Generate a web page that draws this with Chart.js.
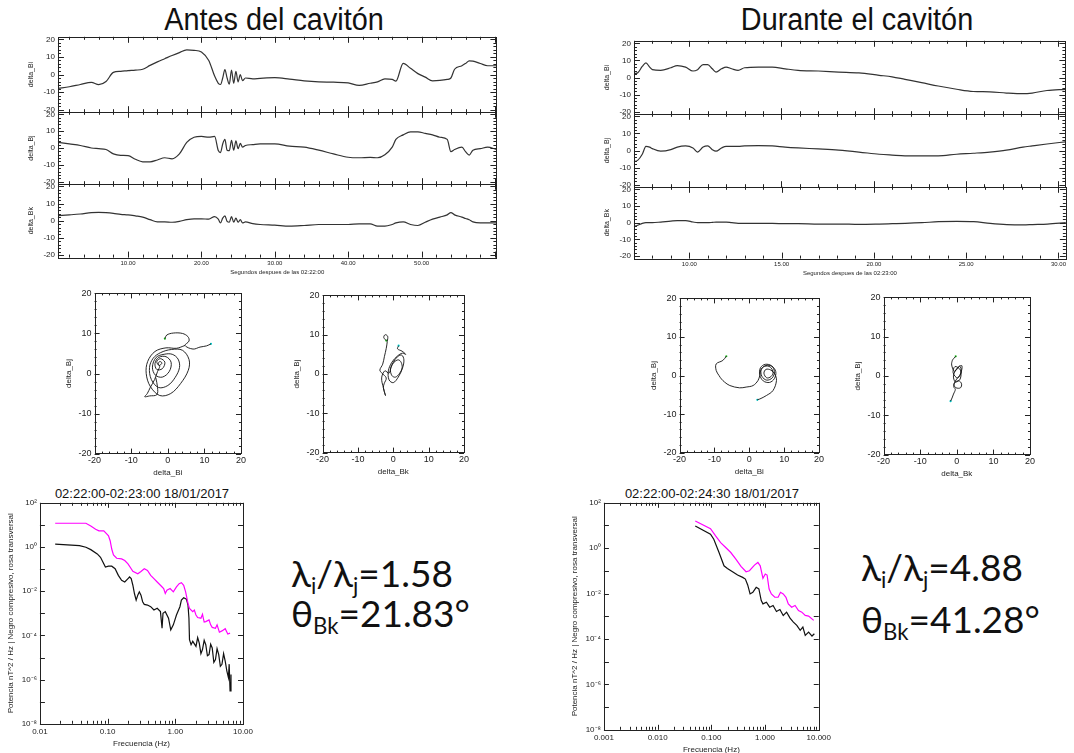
<!DOCTYPE html>
<html lang="es">
<head>
<meta charset="utf-8">
<title>Cavitón</title>
<script src="https://cdn.jsdelivr.net/npm/chart.js@4.4.1/dist/chart.umd.min.js"></script>
<style>
  body { margin: 0; width: 1074px; height: 753px; position: relative; overflow: hidden; background: #fff;
         font-family: 'Liberation Sans', Arial, sans-serif; color: #111; }
  .wrap { position: absolute; left: 0; top: 0; }
  .head { position: absolute; width: 300px; text-align: center; font-family: 'Liberation Sans', Arial, sans-serif;
          font-size: 31px; line-height: 31px; white-space: nowrap; transform: scaleX(0.93); }
  .stitle { position: absolute; width: 240px; text-align: center; font-size: 13px; line-height: 13px; white-space: nowrap; }
  .big { position: absolute; font-family: Lato, 'Open Sans', sans-serif; font-size: 37px; line-height: 37px; white-space: nowrap; }
  .big sub { font-size: 60%; vertical-align: baseline; position: relative; top: 0.3em; }
</style>
</head>
<body>
<div class="head" style="left:124px;top:4px">Antes del cavitón</div>
<div class="head" style="left:707px;top:4px">Durante el cavitón</div>
<div class="stitle" style="left:22px;top:487px">02:22:00-02:23:00 18/01/2017</div>
<div class="stitle" style="left:592px;top:487px">02:22:00-02:24:30 18/01/2017</div>
<div class="big" style="left:291px;top:554px">λ<sub>i</sub>/λ<sub>j</sub>=1.58</div>
<div class="big" style="left:291px;top:594px">θ<sub>Bk</sub>=21.83°</div>
<div class="big" style="left:861px;top:548px">λ<sub>i</sub>/λ<sub>j</sub>=4.88</div>
<div class="big" style="left:861px;top:600px">θ<sub>Bk</sub>=41.28°</div>
<script>
// --- Antes del cavitón: segundos despues de las 02:22:00
const antesT = [0.5,2,3.5,5,6,7,8,9,10,11, 12,13,14,15,16,17,18,19,20,21,
  21.8,22.3,22.6,22.9,23.2,23.5,23.8,24.1,24.4,24.7, 25.0,25.3,25.6,26,27,28,30,32,34,36,
  38,40,41.5,43,44,45,46,46.5,47.5,48.5, 49.5,50.5,51.5,52.5,53.5,54,54.5,55.5,56,56.5, 57,58,59,60.2];
const antesBi = [-7.9,-7.0,-5.7,-4.5,-5.8,-4.0,1.2,1.8,2.2,2.5, 3.0,5.2,7.2,9.0,10.8,12.5,14.0,13.8,12.8,8.0,
  -0.9,-5.0,-5.7,-2.0,2.8,-2.0,-5.5,2.5,-5.0,1.8, -4.2,0,-3.5,-2.0,-2.5,-2.2,-1.8,-2.6,-3.6,-4.2,
  -4.4,-4.8,-6.2,-5.0,-4.2,-2.5,-2.8,-3.8,6.4,3.5, 0.5,-1.5,-3.6,-3.4,-2.8,-2.0,3.0,5.0,6.3,7.8, 7.6,6.3,5.0,5.0];
const antesBj = [3.3,2.4,1.5,0,-0.4,-0.9,-3.5,-4.4,-4.5,-6.7, -8.2,-8.2,-7.1,-5.8,-6.4,-3.5,3.3,6.4,6.9,6.4,
  6.9,-1.5,-2.7,2.4,5.1,-1.3,-1.6,4.5,-1.3,4.2, -0.4,2.7,0.5,1.5,2.0,2.4,2.4,1.1,0.5,-1.3,
  -3.5,-5.5,-5.8,-5.6,-5.8,-4.0,0.5,5.1,7.8,9.6, 9.6,8.7,7.8,6.4,5.1,-2.2,-0.9,0.5,-2.2,-4.2, -1.3,-0.4,0.5,-0.9];
const antesBk = [3.0,3.4,3.9,4.7,4.9,4.7,4.3,3.7,3.4,2.8, 2.1,0.6,-0.7,-0.7,-0.9,-0.4,0.6,1.1,1.1,0.9,
  2.4,0.9,-1.3,1.5,2.8,-0.4,-0.9,2.4,-0.9,1.5, -0.9,0.6,-1.3,-0.7,-1.7,-2.2,-2.6,-3.2,-2.8,-2.2,
  -2.2,-2.2,-1.9,-1.9,-3.2,-3.2,-2.2,-1.3,-0.7,-2.2, -2.8,-0.9,0.9,2.1,3.4,4.7,3.4,2.1,1.3,0.6, -0.7,-1.3,-1.3,-1.3];

// --- Durante el cavitón: segundos despues de las 02:23:00
const duranteT = [7.0,7.2,7.45,7.65,7.85,8.0,8.45,9.0,9.35,9.8, 10.2,10.45,10.75,11.0,11.25,11.45,11.75,12.0,12.3,12.65,
  13.0,13.75,14.5,15.2,15.9,17.0,18.1,19.2,20.3,21.0, 21.7,22.6,23.5,24.5,25.4,26.3,27.2,28.1,28.6,29.4, 30.4];
const duranteBi = [2.3,2.7,6.5,8.6,6.1,4.6,4.2,5.7,7.0,6.1, 3.8,4.6,7.6,7.6,5.1,3.2,5.1,6.1,5.1,4.2,
  5.7,6.1,6.1,5.1,4.2,3.8,3.2,2.7,1.3,0.4, -1.1,-3.0,-5.0,-6.9,-8.2,-8.4,-9.1,-9.5,-9.1,-7.6, -6.9];
const duranteBj = [-6.4,-5.8,-2.2,2.4,2.0,1.1,-0.4,0.5,2.0,2.7, 1.5,-0.9,2.0,2.7,0.5,-0.4,1.5,2.4,2.4,2.4,
  2.7,2.9,2.7,2.0,1.5,0.9,0.2,-0.9,-2.2,-2.7, -3.1,-3.1,-3.1,-2.2,-1.6,-0.9,0.2,2.0,2.7,3.8, 5.1];
const duranteBk = [-2.3,-1.5,-0.4,0,0,0,0.4,1.0,1.3,1.3, 0.4,0,0,0,0.2,0.4,0.4,0.4,0,-0.4,
  -0.4,-0.4,-0.4,-0.6,-0.6,-0.8,-0.8,-1.0,-0.8,-0.6, -0.4,0,0.6,0.8,0.6,-0.4,-1.1,-1.3,-1.1,-0.8, 0];

// --- hodogramas
const antesArcBi = [-0.8,-0.3,1.5,4.0,5.5,5.8,4.7,6.9,8.8,10.6,11.8];
const antesArcBj = [8.7,9.6,10.1,10.0,9.2,8.1,7.0,6.1,6.6,6.9,7.4];
const antesSpiralBi = [4.7,2.4,-0.5,-3.5,-5.5,-5.9,-4.8,-2.2,0.8,3.5, 5.6,5.8,4.0,1.0,-2.0,-4.0,-5.0,-4.5,-2.5,0.0,
  2.0,3.2,2.8,1.2,-1.0,-3.2,-4.2,-3.4,-1.5,0.4, 0.9,-0.5,-2.5,-3.5,-3.0,-1.5,-0.8,-2.0,-3.0,-2.4,
  -1.6,-2.2,-2.6,-2.2,-2.8,-3.6,-4.8,-5.6,-6.3,-5.0, -3.0,-2.8,-3.3];
const antesSpiralBj = [7.0,6.3,6.4,5.5,3.0,0.0,-3.2,-5.5,-5.0,-2.5, 0.8,3.5,5.8,6.0,5.2,3.8,1.5,-1.5,-3.5,-3.0,
  -1.0,1.5,3.6,4.8,4.8,4.0,1.6,-0.4,-0.9,0.5, 2.8,4.2,4.0,2.5,1.0,1.2,2.8,3.7,3.0,2.0,
  2.6,3.0,2.4,1.8,0.5,-1.5,-3.5,-5.0,-5.8,-5.6, -5.3,-3.5,-1.0];
const antesHodoBk = [-2.0,-2.7,-2.3,-1.6,-1.7,-2.0,-2.5,-3.0,-3.8,-3.2, -2.0,-2.6,-2.8,-2.2,-2.8,-3.3,-2.4,-1.2,-0.6,0.2,
  1.4,2.2,2.5,1.8,0.6,-0.4,-0.8,0.0,1.2,2.4, 3.0,2.6,1.4,0.0,-1.2,-1.4,-0.4,1.2,2.6,3.5, 2.5,1.2,1.5];
const antesHodoBj = [8.5,9.3,10.0,9.6,8.3,6.5,4.5,2.5,1.0,0.2, -1.0,-2.5,-3.5,-5.5,-3.5,-1.0,0.8,0.2,1.8,3.0,
  3.6,3.0,1.6,0.2,-0.8,-0.4,1.2,3.0,4.4,4.8, 3.6,1.5,-0.8,-2.2,-1.5,0.8,3.0,4.6,5.3,5.0, 5.8,6.4,7.2];
const duranteHodoBi = [-6.6,-7.6,-9.5,-9.5,-8.7,-8.0,-7.1,-5.6,-2.8,-0.9, 1.1,2.5,3.0,3.4,4.8,6.5,7.6,7.2,5.8,4.0,
  3.0,3.2,4.6,6.4,7.2,6.6,5.0,3.6,3.4,4.4, 6.0,6.8,6.2,5.0,4.2,4.8,6.2,7.3,7.8,6.8, 4.9,3.0,2.3];
const duranteHodoBj = [5.0,3.9,3.0,1.3,0.0,-0.9,-1.7,-2.6,-3.2,-3.0, -2.6,-1.3,0.0,1.6,2.6,2.4,1.0,-0.8,-1.8,-1.4,
  0.2,2.0,2.9,2.5,1.0,-0.6,-1.2,-0.2,1.5,2.4, 2.2,0.8,-0.3,-0.6,0.6,1.6,1.4,0.4,-1.3,-3.9, -5.2,-6.1,-6.3];
const duranteHodoBk = [-0.3,-0.8,-1.2,-1.4,-0.6,0.8,1.2,0.2,-1.0,-0.5, 1.0,0.9,-0.4,-0.9,0.3,1.4,1.0,-0.2,-0.8,-0.2,
  1.0,1.3,0.5,-0.6,-0.8,-0.4,-0.9,-1.3,-1.7];
const duranteHodoBj2 = [5.0,4.5,4.0,2.8,1.2,2.5,1.0,-0.5,0.8,2.4, 1.5,-0.8,-1.5,0.2,2.2,2.6,0.5,-1.0,-2.2,-3.0,
  -3.0,-2.0,-1.2,-1.8,-2.8,-3.4,-4.6,-5.6,-6.4];

// --- espectros (Hz, nT^2/Hz)
const antesFreqT = [0.0168,0.0478,0.0564,0.0665,0.0743,0.0877,0.0977,0.103,0.109,0.115, 0.122,0.136,0.161,0.179,0.200,0.223,0.236,0.279,0.311,0.348,
  0.388,0.433,0.483,0.540,0.603,0.673,0.711,0.752,0.838,0.935, 1.04,1.14,1.23,1.33,1.42,1.54,1.62,1.81,1.91,2.02,
  2.14,2.39,2.52,2.67,2.82,3.15,3.33,3.51,3.92,4.14, 4.48,4.89,5.46,5.96,6.44];
const antesPowT = [11.9,11.9,9.0,6.4,5.4,5.4,3.8,3.2,1.92,0.81, 0.44,0.31,0.29,0.245,0.173,0.104,0.0787,0.0618,0.0787,0.104,
  0.0871,0.052,0.0369,0.0262,0.0186,0.0132,0.00787,0.0111,0.0132,0.00934, 0.0156,0.0220,0.0244,0.0186,0.00934,0.0028,0.00168,0.00119,0.0014,0.00084,
  0.00064,0.0006,0.0009,0.0004,0.00042,0.0005,0.0003,0.00023,0.00021,0.0003, 0.00014,0.00016,0.0002,0.000115,0.000127];
const antesFreqC = [0.0168,0.0384,0.0478,0.0564,0.0703,0.0785,0.0877,0.0927,0.103,0.115, 0.129,0.144,0.161,0.179,0.200,0.211,0.223,0.236,0.249,0.264,
  0.279,0.294,0.311,0.329,0.348,0.388,0.433,0.483,0.540,0.603, 0.637,0.658,0.711,0.794,0.857,0.935,1.04,1.17,1.23,1.33,
  1.46,1.54,1.59,1.62,1.71,1.81,2.02,2.14,2.26,2.39, 2.52,2.67,2.82,2.98,3.15,3.33,3.51,3.71,3.92,4.14,
  4.38,4.63,4.89,5.17,5.46,5.77,6.09,6.25,6.44,6.65];
const antesPowC = [1.36,1.15,0.97,0.76,0.486,0.344,0.173,0.123,0.136,0.136, 0.104,0.052,0.031,0.026,0.037,0.044,0.037,0.0186,0.00787,0.00395,
  0.00662,0.00934,0.00662,0.00333,0.00253,0.00236,0.00199,0.00141,0.00168,0.00119, 0.000213,0.001,0.00119,0.000597,0.000179,0.000301,0.000841,0.00199,0.00395,0.00503,
  0.00438,0.00236,0.000597,0.000064,0.000038,0.000054,0.000032,0.00008,0.000045,0.000015, 0.000023,0.00006,0.000038,0.000012,0.0000136,0.00004,0.000027,0.000006,0.0000081,0.000025,
  0.0000136,0.000004,0.0000049,0.000015,0.0000069,0.0000025,0.00000123,0.000005,0.00000031,0.0000017];
const duranteFreqT = [0.0502,0.0964,0.12,0.149,0.185,0.230,0.286,0.356,0.443,0.512, 0.635,0.735,0.813,0.914,1.01,1.09,1.19,1.31,1.52,1.75,
  1.94,2.18,2.45,2.71,3.13,3.62,4.19,4.84,5.6,6.47, 8.05];
const durantePowT = [15.7,7.3,3.5,1.77,1.07,0.645,0.33,0.157,0.092,0.102, 0.18,0.235,0.168,0.047,0.0727,0.0658,0.016,0.00966,0.0069,0.0069,
  0.0114,0.00966,0.0069,0.00352,0.00252,0.00298,0.0018,0.00152,0.00109,0.00102, 0.00066];
const duranteFreqC = [0.0502,0.0964,0.111,0.139,0.172,0.199,0.248,0.308,0.383,0.43, 0.475,0.526,0.592,0.684,0.767,0.849,0.914,1.06,1.22,1.41,
  1.63,1.89,2.18,2.52,2.92,3.37,3.9,4.51,5.06,5.6, 6.47,7.48,8.28];
const durantePowC = [9.5,4.1,2.48,0.645,0.168,0.129,0.092,0.0658,0.0519,0.0438, 0.024,0.00966,0.0114,0.0189,0.016,0.00493,0.00352,0.00417,0.00252,0.00298,
  0.00163,0.00199,0.00109,0.00152,0.00083,0.000556,0.000397,0.00024,0.000336,0.000145, 0.000203,0.000135,0.000171];

// --- ticks
const tsYTicks = [-20, -10, 0, 10, 20];
const antesTimeTicks = [10, 20, 30, 40, 50];
const duranteTimeTicks = [10, 15, 20, 25, 30];
const hodoTicks = [-20, -10, 0, 10, 20];
const antesFreqTicks = [0.01, 0.1, 1, 10];
const antesFreqLabels = ['0.01', '0.10', '1.00', '10.00'];
const duranteFreqTicks = [0.001, 0.01, 0.1, 1, 10];
const duranteFreqLabels = ['0.001', '0.010', '0.100', '1.000', '10.000'];
const powTicks = [1e2, 1e0, 1e-2, 1e-4, 1e-6, 1e-8];
const powLabels = ['10²', '10⁰', '10⁻²', '10⁻⁴', '10⁻⁶', '10⁻⁸'];

Chart.defaults.font.family = "'Liberation Sans', Arial, sans-serif";
Chart.defaults.color = '#222';

const pts = (xs, ys) => xs.map((x, i) => ({ x: x, y: ys[i] }));

function tickMarks(scale, spec) {
  const out = [];
  if (spec.log) {
    const d0 = Math.floor(Math.log10(scale.min)), d1 = Math.ceil(Math.log10(scale.max));
    for (let d = d0; d <= d1; d++) {
      for (let k = 1; k < 10; k++) {
        const v = k * Math.pow(10, d);
        if (v < scale.min * 0.999 || v > scale.max * 1.001) continue;
        if (k === 1 || spec.minor) out.push([v, k === 1]);
      }
    }
  } else {
    for (let i = Math.ceil(scale.min / spec.minor); i * spec.minor <= scale.max; i++) {
      const v = i * spec.minor;
      out.push([v, Math.abs(v / spec.step - Math.round(v / spec.step)) < 1e-6]);
    }
  }
  return out;
}

// frame + inward ticks on the four sides, IDL style
const boxTicks = {
  id: 'boxTicks',
  afterDatasetsDraw(chart, args, opts) {
    const { ctx, chartArea: a } = chart;
    const sx = chart.scales.x, sy = chart.scales.y;
    ctx.save();
    ctx.strokeStyle = '#222';
    ctx.lineWidth = 1;
    ctx.beginPath();
    tickMarks(sx, opts.x).forEach(([v, major]) => {
      const p = Math.round(sx.getPixelForValue(v)) + 0.5;
      const len = major ? opts.major : opts.minor;
      ctx.moveTo(p, a.bottom); ctx.lineTo(p, a.bottom - len);
      ctx.moveTo(p, a.top); ctx.lineTo(p, a.top + len);
    });
    tickMarks(sy, opts.y).forEach(([v, major]) => {
      const p = Math.round(sy.getPixelForValue(v)) + 0.5;
      const len = major ? opts.major : opts.minor;
      ctx.moveTo(a.left, p); ctx.lineTo(a.left + len, p);
      ctx.moveTo(a.right, p); ctx.lineTo(a.right - len, p);
    });
    ctx.stroke();
    ctx.strokeRect(Math.round(a.left) + 0.5, Math.round(a.top) + 0.5, Math.round(a.right - a.left), Math.round(a.bottom - a.top));
    ctx.restore();
  }
};

function axis(o) {
  return {
    type: o.type || 'linear', min: o.min, max: o.max,
    afterBuildTicks: s => { s.ticks = o.ticks.map(v => ({ value: v })); },
    grid: { display: false, drawTicks: false },
    border: { display: false },
    ticks: {
      display: !!o.labels, autoSkip: false, maxRotation: 0, padding: o.pad, color: '#222',
      font: { size: o.size }, callback: (v, i) => (o.labels ? o.labels[i] : '')
    },
    title: { display: !!o.title, text: o.title || '', color: '#222', font: { size: o.titleSize }, padding: o.titlePad }
  };
}

// put a chart so that its plot box lands on box {x, y, w, h}; whole pixels only, so nothing gets resampled
function place(box, config) {
  const wrap = document.createElement('div');
  wrap.className = 'wrap';
  wrap.style.width = (box.w + 60) + 'px';
  wrap.style.height = (box.h + 40) + 'px';
  const canvas = document.createElement('canvas');
  wrap.appendChild(canvas);
  document.body.appendChild(wrap);
  config.plugins = [boxTicks];
  Object.assign(config.options, { responsive: true, maintainAspectRatio: false, animation: false });
  const chart = new Chart(canvas, config);
  let a = chart.chartArea;
  wrap.style.width = Math.round(wrap.clientWidth + box.w - (a.right - a.left)) + 'px';
  wrap.style.height = Math.round(wrap.clientHeight + box.h - (a.bottom - a.top)) + 'px';
  chart.resize();
  a = chart.chartArea;
  wrap.style.left = Math.round(box.x - a.left) + 'px';
  wrap.style.top = Math.round(box.y - a.top) + 'px';
  return chart;
}

function seriesPanel(box, times, values, yTitle, t) {
  return place(box, {
    type: 'scatter',
    data: { datasets: [{ data: pts(times, values), showLine: true, pointRadius: 0, borderColor: '#333',
      borderWidth: 1.2, cubicInterpolationMode: 'monotone' }] },
    options: {
      plugins: { legend: { display: false }, tooltip: { enabled: false },
        boxTicks: { x: { step: t.step, minor: t.minor }, y: { step: 10, minor: 2 }, major: 6, minor: 3 } },
      scales: {
        x: axis({ min: t.min, max: t.max, ticks: t.ticks, labels: t.show ? t.ticks.map(v => v.toFixed(2)) : null,
          size: 6, pad: 2, title: t.show ? t.title : null, titleSize: 6, titlePad: 0 }),
        y: axis({ min: -21.5, max: 21.5, ticks: tsYTicks, labels: tsYTicks.map(String), size: 8, pad: 3,
          title: yTitle, titleSize: 7, titlePad: 5 })
      }
    }
  });
}

function hodoPanel(box, paths, xTitle) {
  const sets = paths.map(p => ({ data: pts(p[0], p[1]), showLine: true, pointRadius: 0, borderColor: '#111',
    borderWidth: 0.9, tension: 0.35 }));
  const last = paths[paths.length - 1], n = last[0].length;
  sets.push({ data: [{ x: last[0][0], y: last[1][0] }], pointRadius: 1.1, backgroundColor: '#22bb22', borderWidth: 0 });
  sets.push({ data: [{ x: last[0][n - 1], y: last[1][n - 1] }], pointRadius: 1.1, backgroundColor: '#00cccc', borderWidth: 0 });
  return place(box, {
    type: 'scatter',
    data: { datasets: sets },
    options: {
      plugins: { legend: { display: false }, tooltip: { enabled: false },
        boxTicks: { x: { step: 10, minor: 2 }, y: { step: 10, minor: 2 }, major: 5, minor: 2 } },
      scales: {
        x: axis({ min: -20, max: 20, ticks: hodoTicks, labels: hodoTicks.map(String), size: 9, pad: 2,
          title: xTitle, titleSize: 8, titlePad: 0 }),
        y: axis({ min: -20, max: 20, ticks: hodoTicks, labels: hodoTicks.map(String), size: 9, pad: 3,
          title: 'delta_Bj', titleSize: 8, titlePad: 2 })
      }
    }
  });
}

function spectrumPanel(box, xmin, fTicks, fLabels, trans, comp) {
  return place(box, {
    type: 'scatter',
    data: { datasets: [
      { data: pts(trans[0], trans[1]), showLine: true, pointRadius: 0, borderColor: '#ff00ff', borderWidth: 1.2 },
      { data: pts(comp[0], comp[1]), showLine: true, pointRadius: 0, borderColor: '#111', borderWidth: 1.2 }
    ] },
    options: {
      plugins: { legend: { display: false }, tooltip: { enabled: false },
        boxTicks: { x: { log: true, minor: true }, y: { log: true, minor: false }, major: 5, minor: 3 } },
      scales: {
        x: axis({ type: 'logarithmic', min: xmin, max: 10, ticks: fTicks, labels: fLabels, size: 8, pad: 3,
          title: 'Frecuencia (Hz)', titleSize: 8, titlePad: 0 }),
        y: axis({ type: 'logarithmic', min: 1e-8, max: 1e2, ticks: powTicks, labels: powLabels, size: 8, pad: 3,
          title: 'Potencia nT^2 / Hz | Negro compresivo, rosa transversal', titleSize: 8, titlePad: 3 })
      }
    }
  });
}

// Antes del cavitón
const antesAxis = { min: 0.45, max: 60.2, ticks: antesTimeTicks, step: 10, minor: 2, title: 'Segundos despues de las 02:22:00' };
seriesPanel({ x: 58, y: 37, w: 439, h: 75 }, antesT, antesBi, 'delta_Bi', { ...antesAxis, show: false });
seriesPanel({ x: 58, y: 112, w: 439, h: 72 }, antesT, antesBj, 'delta_Bj', { ...antesAxis, show: false });
seriesPanel({ x: 58, y: 184, w: 439, h: 74 }, antesT, antesBk, 'delta_Bk', { ...antesAxis, show: true });

// Durante el cavitón
const duranteAxis = { min: 7.0, max: 30.4, ticks: duranteTimeTicks, step: 5, minor: 1, title: 'Segundos despues de las 02:23:00' };
seriesPanel({ x: 634, y: 41, w: 432, h: 73 }, duranteT, duranteBi, 'delta_Bi', { ...duranteAxis, show: false });
seriesPanel({ x: 634, y: 114, w: 432, h: 73 }, duranteT, duranteBj, 'delta_Bj', { ...duranteAxis, show: false });
seriesPanel({ x: 634, y: 187, w: 432, h: 72 }, duranteT, duranteBk, 'delta_Bk', { ...duranteAxis, show: true });

hodoPanel({ x: 95, y: 293, w: 146, h: 160 }, [[antesSpiralBi, antesSpiralBj], [antesArcBi, antesArcBj]], 'delta_Bi');
hodoPanel({ x: 323, y: 295, w: 141, h: 157 }, [[antesHodoBk, antesHodoBj]], 'delta_Bk');
hodoPanel({ x: 680, y: 298, w: 139, h: 154 }, [[duranteHodoBi, duranteHodoBj]], 'delta_Bi');
hodoPanel({ x: 884, y: 297, w: 146, h: 157 }, [[duranteHodoBk, duranteHodoBj2]], 'delta_Bk');

spectrumPanel({ x: 40, y: 503, w: 203, h: 221 }, 0.01, antesFreqTicks, antesFreqLabels,
  [antesFreqT, antesPowT], [antesFreqC, antesPowC]);
spectrumPanel({ x: 604, y: 503, w: 215, h: 227 }, 0.001, duranteFreqTicks, duranteFreqLabels,
  [duranteFreqT, durantePowT], [duranteFreqC, durantePowC]);
</script>
</body>
</html>
